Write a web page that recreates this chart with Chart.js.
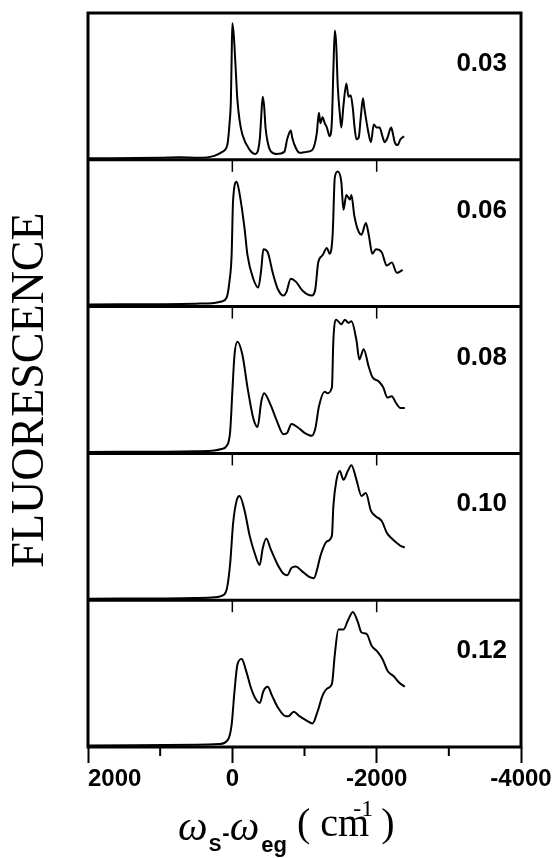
<!DOCTYPE html>
<html>
<head>
<meta charset="utf-8">
<script src="https://cdn.jsdelivr.net/npm/chart.js@4.4.1/dist/chart.umd.min.js"></script>
<style>
  html, body { margin: 0; padding: 0; background: #fff; }
</style>
</head>
<body>
<canvas id="fluoChart" width="556" height="858"></canvas>
<script>
const panelLabels = ['0.03', '0.06', '0.08', '0.10', '0.12'];

// spectra, x in cm-1, y as fraction of panel height
const p1X = [2000, 1000, 740, 460, 250, 140, 70, 40, 20, 10, 0, -20, -40, -70, -100, -140, -240, -320, -380, -400, -420, -440, -460, -490, -530, -610, -720, -760, -810, -830, -880, -930, -1030, -1110, -1170, -1200, -1220, -1250, -1280, -1310, -1350, -1380, -1400, -1420, -1440, -1460, -1490, -1510, -1540, -1580, -1610, -1640, -1670, -1690, -1720, -1750, -1780, -1810, -1830, -1880, -1920, -1960, -2000, -2040, -2080, -2110, -2150, -2200, -2220, -2250, -2290, -2330, -2380];
const p1Y = [0.01, 0.014, 0.017, 0.014, 0.027, 0.054, 0.10, 0.24, 0.41, 0.68, 0.93, 0.85, 0.68, 0.41, 0.27, 0.17, 0.068, 0.04, 0.14, 0.29, 0.43, 0.37, 0.22, 0.12, 0.06, 0.04, 0.054, 0.14, 0.20, 0.15, 0.08, 0.048, 0.054, 0.068, 0.18, 0.32, 0.25, 0.29, 0.25, 0.22, 0.16, 0.27, 0.61, 0.88, 0.78, 0.51, 0.31, 0.22, 0.37, 0.52, 0.43, 0.44, 0.35, 0.24, 0.14, 0.15, 0.29, 0.42, 0.35, 0.20, 0.12, 0.24, 0.22, 0.22, 0.16, 0.12, 0.15, 0.22, 0.19, 0.12, 0.10, 0.14, 0.16];

const p2X = [2000, 500, 250, 150, 80, 40, 10, -10, -60, -100, -170, -210, -290, -360, -400, -430, -490, -560, -630, -710, -750, -810, -880, -970, -1100, -1150, -1190, -1250, -1310, -1350, -1390, -1420, -1460, -1510, -1540, -1580, -1630, -1650, -1690, -1750, -1790, -1850, -1890, -1940, -1990, -2070, -2140, -2210, -2280, -2360];
const p2Y = [0.015, 0.02, 0.025, 0.035, 0.06, 0.17, 0.35, 0.72, 0.85, 0.77, 0.53, 0.35, 0.19, 0.13, 0.25, 0.39, 0.37, 0.23, 0.12, 0.075, 0.10, 0.19, 0.17, 0.11, 0.075, 0.12, 0.30, 0.35, 0.40, 0.36, 0.49, 0.88, 0.92, 0.85, 0.66, 0.76, 0.73, 0.76, 0.62, 0.51, 0.49, 0.57, 0.49, 0.36, 0.39, 0.37, 0.28, 0.30, 0.23, 0.25];

const p3X = [2000, 500, 250, 150, 80, 30, 0, -30, -70, -140, -210, -290, -350, -400, -440, -530, -610, -710, -760, -820, -900, -1000, -1100, -1150, -1200, -1280, -1320, -1380, -1400, -1440, -1510, -1560, -1610, -1650, -1720, -1760, -1820, -1890, -1940, -2030, -2090, -2150, -2210, -2260, -2330, -2390];
const p3Y = [0.01, 0.015, 0.02, 0.03, 0.05, 0.15, 0.42, 0.67, 0.76, 0.67, 0.45, 0.24, 0.18, 0.35, 0.41, 0.33, 0.23, 0.13, 0.14, 0.20, 0.18, 0.14, 0.12, 0.17, 0.32, 0.42, 0.41, 0.45, 0.77, 0.91, 0.88, 0.91, 0.89, 0.90, 0.77, 0.64, 0.71, 0.59, 0.52, 0.49, 0.45, 0.38, 0.39, 0.35, 0.31, 0.31];

const p4X = [2000, 500, 250, 150, 80, 30, -10, -60, -100, -170, -240, -310, -380, -420, -470, -530, -630, -710, -760, -820, -880, -960, -1060, -1130, -1180, -1220, -1310, -1380, -1400, -1440, -1490, -1540, -1600, -1650, -1720, -1790, -1850, -1920, -1990, -2070, -2140, -2210, -2280, -2330, -2390];
const p4Y = [0.01, 0.015, 0.02, 0.03, 0.07, 0.25, 0.52, 0.68, 0.71, 0.61, 0.44, 0.32, 0.24, 0.35, 0.42, 0.35, 0.24, 0.18, 0.17, 0.22, 0.23, 0.20, 0.16, 0.15, 0.22, 0.30, 0.40, 0.44, 0.64, 0.81, 0.88, 0.82, 0.88, 0.92, 0.82, 0.71, 0.73, 0.61, 0.57, 0.54, 0.46, 0.42, 0.39, 0.37, 0.36];

const p5X = [2000, 500, 180, 60, 10, -30, -70, -130, -190, -260, -320, -380, -430, -490, -550, -630, -740, -780, -850, -930, -1030, -1110, -1180, -1250, -1320, -1380, -1420, -1470, -1540, -1600, -1670, -1740, -1790, -1860, -1930, -2010, -2080, -2150, -2240, -2310, -2390];
const p5Y = [0.01, 0.015, 0.02, 0.05, 0.15, 0.38, 0.56, 0.60, 0.52, 0.40, 0.33, 0.30, 0.38, 0.41, 0.35, 0.27, 0.21, 0.21, 0.24, 0.21, 0.18, 0.16, 0.24, 0.35, 0.40, 0.43, 0.63, 0.80, 0.80, 0.86, 0.92, 0.85, 0.78, 0.77, 0.69, 0.65, 0.60, 0.52, 0.48, 0.44, 0.41];

const panelX = [p1X, p2X, p3X, p4X, p5X];
const panelY = [p1Y, p2Y, p3Y, p4Y, p5Y];

// -3000 is listed first on purpose: with align 'inner' only the last tick (2000) gets left aligned
const xTickValues = [-3000, -4000, -2000, -1000, 0, 1000, 2000];
const xTickLabels = ['', '-4000', '-2000', '', '0', '', '2000'];
const panelTickValues = [0, -2000];

const yTitle = 'FLUORESCENCE';
const xTitleRuns = [
    { text: 'ω', font: 'italic 42px "Liberation Serif"', dy: 0, kern: 0 },
    { text: 'S', font: 'bold 19px "Liberation Sans"', dy: 11, kern: 1 },
    { text: '-', font: 'bold 22px "Liberation Sans"', dy: 0, kern: 1 },
    { text: 'ω', font: 'italic 42px "Liberation Serif"', dy: 0, kern: 0 },
    { text: 'eg', font: 'bold 22px "Liberation Sans"', dy: 12, kern: 2 },
    { text: '(', font: '40px "Liberation Serif"', dy: -4, kern: 10 },
    { text: ' cm', font: '40px "Liberation Serif"', dy: -4, kern: 0 },
    { text: '-1', font: '24px "Liberation Serif"', dy: -24, kern: -16 },
    { text: ')', font: '40px "Liberation Serif"', dy: -4, kern: 8 }
];

const framePlugin = {
    id: 'frames',
    afterDraw(chart) {
        const ctx = chart.ctx;
        const a = chart.chartArea;
        const xs = chart.scales.x;

        ctx.save();
        ctx.strokeStyle = '#000';
        ctx.fillStyle = '#000';
        ctx.lineWidth = 3;
        ctx.strokeRect(a.left, a.top, a.right - a.left, a.bottom - a.top);

        panelLabels.forEach((lab, i) => {
            const ys = chart.scales['y' + i];
            if (i > 0) {
                ctx.lineWidth = 3;
                ctx.beginPath();
                ctx.moveTo(a.left, ys.top);
                ctx.lineTo(a.right, ys.top);
                ctx.stroke();
                ctx.lineWidth = 1.5;
                panelTickValues.forEach(v => {
                    const px = xs.getPixelForValue(v);
                    ctx.beginPath();
                    ctx.moveTo(px, ys.top);
                    ctx.lineTo(px, ys.top + 12);
                    ctx.stroke();
                });
            }
            ctx.font = 'bold 26px "Liberation Sans"';
            ctx.textAlign = 'right';
            ctx.textBaseline = 'alphabetic';
            ctx.fillText(lab, a.right - 14, ys.top + 58);
        });

        // short minor ticks on the bottom axis
        ctx.lineWidth = 2;
        xTickValues.forEach((v, i) => {
            if (xTickLabels[i]) return;
            const px = xs.getPixelForValue(v);
            ctx.beginPath();
            ctx.moveTo(px, a.bottom);
            ctx.lineTo(px, a.bottom + 9);
            ctx.stroke();
        });

        // y title, reads bottom to top
        ctx.save();
        ctx.translate(43, (a.top + a.bottom) / 2 + 10);
        ctx.rotate(-Math.PI / 2);
        ctx.font = '46px "Liberation Serif"';
        ctx.textAlign = 'center';
        ctx.fillText(yTitle, 0, 0);
        ctx.restore();

        // x title made of runs
        let x = 178;
        const base = a.bottom + 93;
        ctx.textAlign = 'left';
        xTitleRuns.forEach(r => {
            ctx.font = r.font;
            x += r.kern;
            ctx.fillText(r.text, x, base + r.dy);
            x += ctx.measureText(r.text).width;
        });
        ctx.restore();
    }
};

function buildScales() {
    const scales = {
        x: {
            type: 'linear',
            min: -4000,
            max: 2000,
            reverse: true,
            afterBuildTicks: axis => {
                axis.ticks = xTickValues.map(v => ({ value: v }));
            },
            afterFit: axis => {
                axis.height = 111;
            },
            border: { display: false },
            grid: {
                drawOnChartArea: false,
                drawTicks: true,
                tickLength: 16,
                tickWidth: 2,
                tickColor: c => (xTickLabels[xTickValues.indexOf(c.tick.value)] ? '#000' : 'rgba(0,0,0,0)')
            },
            ticks: {
                autoSkip: false,
                maxRotation: 0,
                align: 'inner',
                padding: 2,
                color: '#000',
                font: { family: 'Liberation Sans', size: 24, weight: 'bold' },
                callback: v => xTickLabels[xTickValues.indexOf(v)]
            }
        }
    };
    panelLabels.forEach((lab, i) => {
        scales['y' + i] = {
            type: 'linear',
            display: false,
            position: 'left',
            stack: 'panels',
            stackWeight: 1,
            weight: panelLabels.length - i,
            min: 0,
            max: 1
        };
    });
    return scales;
}

function initChart() {
    const datasets = panelLabels.map((lab, i) => ({
        label: lab,
        yAxisID: 'y' + i,
        data: panelX[i].map((v, j) => ({ x: v, y: panelY[i][j] })),
        borderColor: '#000',
        borderWidth: 2,
        pointRadius: 0,
        fill: false,
        cubicInterpolationMode: 'monotone'
    }));

    new Chart(document.getElementById('fluoChart'), {
        type: 'line',
        data: { datasets },
        options: {
            responsive: false,
            animation: false,
            devicePixelRatio: 1,
            layout: { padding: { left: 88, right: 35, top: 13, bottom: 0 } },
            scales: buildScales(),
            plugins: {
                legend: { display: false },
                tooltip: { enabled: false }
            }
        },
        plugins: [framePlugin]
    });
}

initChart();
</script>
</body>
</html>
